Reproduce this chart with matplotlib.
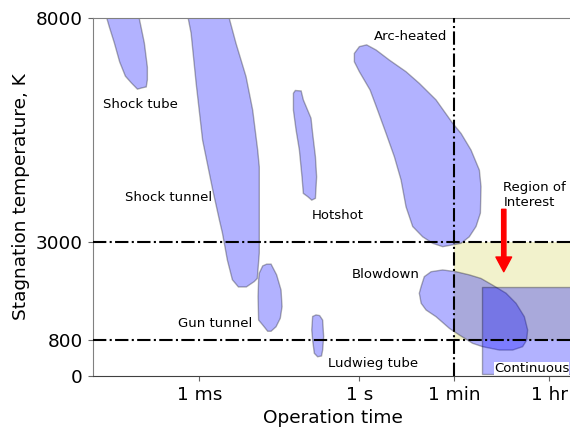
import matplotlib
matplotlib.use("Agg")
import matplotlib.pyplot as plt
from matplotlib.patches import Polygon
from matplotlib.ticker import NullLocator

# Facility envelopes: (operation time [s], stagnation temperature [K])
shock_tube = [(1.55e-5, 8300), (2.05e-5, 7800), (2.55e-5, 7440), (3.2e-5, 7020),
              (4.1e-5, 6700), (5.3e-5, 6550), (6.9e-5, 6410), (8.5e-5, 6440),
              (1.01e-4, 6460), (1.06e-4, 6620), (1.06e-4, 6900), (9.3e-5, 7440),
              (6.6e-5, 8300)]
shock_tunnel = [(5.5e-4, 8300), (7.0e-4, 7660), (8.7e-4, 6540), (1.15e-3, 5270),
                (1.78e-3, 4160), (2.37e-3, 3490), (2.7e-3, 3200), (3.35e-3, 2590),
                (4.16e-3, 2150), (5.4e-3, 1990), (7.6e-3, 1990), (1.07e-2, 2110),
                (1.22e-2, 2180), (1.33e-2, 2750), (1.33e-2, 4670), (1.24e-2, 5050),
                (1.0e-2, 5940), (7.5e-3, 6690), (4.87e-3, 7430), (3.1e-3, 8300)]
gun_tunnel = [(1.33e-2, 2300), (1.54e-2, 2460), (1.83e-2, 2500), (2.21e-2, 2500),
              (2.81e-2, 2260), (3.40e-2, 1920), (3.55e-2, 1550), (3.29e-2, 1290),
              (2.74e-2, 1100), (2.21e-2, 1000), (1.91e-2, 1000), (1.54e-2, 1140),
              (1.29e-2, 1250), (1.26e-2, 1770), (1.29e-2, 2150)]
ludwieg_tube = [(0.133, 1330), (0.154, 1365), (0.18, 1350), (0.205, 1250),
                (0.214, 880), (0.205, 580), (0.195, 447), (0.165, 430),
                (0.143, 507), (0.133, 800), (0.128, 1030)]
hotshot = [(0.058, 6320), (0.063, 6380), (0.081, 6370), (0.089, 6170),
           (0.124, 5760), (0.133, 5420), (0.150, 4900), (0.158, 4450),
           (0.150, 3970), (0.128, 3930), (0.107, 4010), (0.089, 4080),
           (0.084, 4450), (0.075, 5050), (0.065, 5500), (0.058, 5940)]
arc_heated = [(0.806, 7210), (1.0, 7360), (1.37, 7400), (2.06, 7285), (3.65, 7060),
              (7.5, 6800), (13.3, 6540), (27.4, 6170), (56, 5650), (80.7, 5420),
              (124, 5050), (178, 4600), (191, 4230), (186, 3640), (154, 3340),
              (115, 3110), (80.7, 2965), (36.5, 2890), (23.7, 2965), (15.4, 3110),
              (10, 3340), (7.5, 3780), (6.05, 4380), (4.53, 4900), (3.17, 5420),
              (2.2, 5940), (1.59, 6390), (1.0, 6800), (0.806, 7020)]
blowdown = [(14.4, 2000), (16.5, 2220), (22.1, 2330), (36.5, 2370), (65, 2330),
            (115, 2260), (191, 2180), (316, 2030), (563, 1850), (866, 1625),
            (1240, 1325), (1430, 1030), (1370, 800), (1150, 655), (749, 580),
            (422, 580), (205, 655), (133, 730), (75, 915), (48.7, 1065),
            (27.4, 1325), (17.8, 1475), (14.4, 1625), (13.3, 1850)]

# Continuous facilities: run time and temperature range
continuous_time = [200, 1e5]
continuous_temp = [50, 2000]

# Region of interest
roi_time = [60, 1e5]
roi_temp = [800, 3000]
roi_arrow_time = 510
roi_arrow_temp = [3725, 2330]

# Reference lines
temp_lines = [3000, 800]
time_line = 60

# Labels
label_names = ["Shock tube", "Shock tunnel", "Hotshot", "Arc-heated",
               "Blowdown", "Gun tunnel", "Ludwieg tube"]
label_times = [1.58e-5, 4.1e-5, 0.128, 1.86, 0.73, 4.0e-4, 0.255]
label_temps = [5980, 3900, 3500, 7500, 2180, 1090, 210]

x_ticks = [1e-3, 1, 60, 3600]
x_tick_labels = ["1 ms", "1 s", "1 min", "1 hr"]
y_ticks = [0, 800, 3000, 8000]

fig = plt.figure(figsize=(5.7, 4.3), dpi=100)
ax = fig.add_axes([92.7 / 570, 54 / 430, 480 / 570, 358 / 430])
ax.set_xscale("log")
ax.set_xlim(1e-5, 1e4)
ax.set_ylim(0, 8000)

ax.fill_between(roi_time, roi_temp[0], roi_temp[1], facecolor="y", alpha=0.2,
                linewidth=0, zorder=1)

for verts in [shock_tube, shock_tunnel, gun_tunnel, ludwieg_tube, hotshot,
              arc_heated, blowdown]:
    ax.add_patch(Polygon(verts, closed=True, facecolor="b", edgecolor="k",
                         alpha=0.3, linewidth=1.0, zorder=2))

ax.fill_between(continuous_time, continuous_temp[0], continuous_temp[1],
                facecolor="b", edgecolor="k", alpha=0.3, linewidth=1.0, zorder=2)

for t in temp_lines:
    ax.axhline(t, color="k", linestyle="-.", linewidth=1.5, zorder=3)
ax.axvline(time_line, color="k", linestyle="-.", linewidth=1.5, zorder=3)

ax.annotate("", xy=(roi_arrow_time, roi_arrow_temp[1]),
            xytext=(roi_arrow_time, roi_arrow_temp[0]),
            arrowprops=dict(facecolor="red", edgecolor="red", width=3.1,
                            headwidth=11.3, headlength=10.6, shrink=0),
            zorder=4)

for name, t, T in zip(label_names, label_times, label_temps):
    ax.text(t, T, name, fontsize=9.5, zorder=5)
ax.text(500, 3800, "Region of\nInterest", fontsize=9.5, zorder=5)
ax.text(335, 100, "Continuous", fontsize=9.5, zorder=5,
        bbox=dict(facecolor="white", edgecolor="none", pad=0))

ax.set_xticks(x_ticks)
ax.set_xticklabels(x_tick_labels)
ax.xaxis.set_minor_locator(NullLocator())
ax.set_yticks(y_ticks)
ax.tick_params(labelsize=13.3, color="0.4")
ax.spines["left"].set_color("0.5")
ax.spines["top"].set_color("0.5")
ax.spines["bottom"].set_color("0.25")
ax.set_xlabel("Operation time", fontsize=13.3)
ax.set_ylabel("Stagnation temperature, K", fontsize=13.3)

fig.savefig("out.png", dpi=100)
